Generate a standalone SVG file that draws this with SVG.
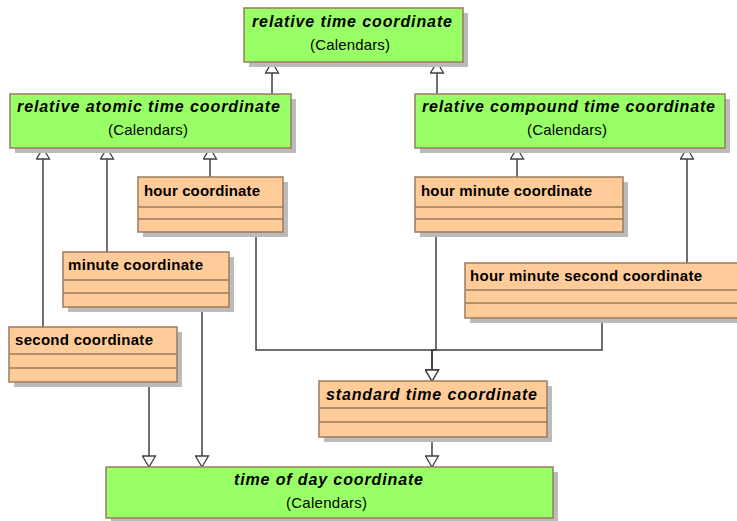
<svg xmlns="http://www.w3.org/2000/svg" width="737" height="521" viewBox="0 0 737 521">
<style>
.g{fill:#99FF66;stroke:#9A7B5E;stroke-width:1.5}
.o{fill:#FFCC99;stroke:#9A7B5E;stroke-width:1.5}
.sh{fill:#BBBBBB}
.sep{stroke:#9A7B5E;stroke-width:1.5}
.t{font-family:"Liberation Sans",Arial,sans-serif;font-size:16px;font-weight:bold;font-style:italic;fill:#000}
.c{font-family:"Liberation Sans",Arial,sans-serif;font-size:15px;fill:#000}
.n{font-family:"Liberation Sans",Arial,sans-serif;font-size:15px;font-weight:bold;fill:#000}
.ni{font-family:"Liberation Sans",Arial,sans-serif;font-size:16px;font-weight:bold;font-style:italic;fill:#000}
.e{fill:none;stroke:#404040;stroke-width:1.5;marker-end:url(#tri)}
</style>
<defs>
<marker id="tri" markerUnits="userSpaceOnUse" markerWidth="15" markerHeight="15" refX="11" refY="6.5" orient="auto" viewBox="-1 -1 15 15">
<path d="M0,0 L11,6.5 L0,13 Z" fill="#fff" stroke="#404040" stroke-width="1.3"/>
</marker>
</defs>
<rect width="737" height="521" fill="#fff"/>

<g id="connectors">
<path class="e" d="M272,94 V62"/>
<path class="e" d="M437,94 V62"/>
<path class="e" d="M43,327 V148"/>
<path class="e" d="M107,252 V148"/>
<path class="e" d="M210,177 V148"/>
<path class="e" d="M517,177 V148"/>
<path class="e" d="M687,263 V148"/>
<path class="e" d="M256,232 V350 H432 V381"/>
<path class="e" d="M436,232 V350 H432 V381"/>
<path class="e" d="M602,318 V350 H432 V381"/>
<path class="e" d="M149,382 V467"/>
<path class="e" d="M202,307 V467"/>
<path class="e" d="M432,437 V467"/>
</g>

<g id="relative-time-coordinate">
<rect class="sh" x="249" y="13" width="219" height="54"/>
<rect class="g" x="244" y="8" width="219" height="54"/>
<text class="t" x="252" y="27" textLength="200" lengthAdjust="spacing">relative time coordinate</text>
<text class="c" x="310" y="50" textLength="80" lengthAdjust="spacing">(Calendars)</text>
</g>

<g id="relative-atomic-time-coordinate">
<rect class="sh" x="15" y="99" width="281" height="54"/>
<rect class="g" x="10" y="94" width="281" height="54"/>
<text class="t" x="17" y="112" textLength="263" lengthAdjust="spacing">relative atomic time coordinate</text>
<text class="c" x="108" y="135" textLength="80" lengthAdjust="spacing">(Calendars)</text>
</g>

<g id="relative-compound-time-coordinate">
<rect class="sh" x="420" y="99" width="310" height="54"/>
<rect class="g" x="415" y="94" width="310" height="54"/>
<text class="t" x="422" y="112" textLength="293" lengthAdjust="spacing">relative compound time coordinate</text>
<text class="c" x="527" y="135" textLength="80" lengthAdjust="spacing">(Calendars)</text>
</g>

<g id="hour-coordinate">
<rect class="sh" x="143" y="182" width="145" height="55"/>
<rect class="o" x="138" y="177" width="145" height="55"/>
<line class="sep" x1="138" y1="207" x2="283" y2="207"/>
<line class="sep" x1="138" y1="219" x2="283" y2="219"/>
<text class="n" x="144" y="196" textLength="116" lengthAdjust="spacing">hour coordinate</text>
</g>

<g id="hour-minute-coordinate">
<rect class="sh" x="420" y="182" width="208" height="55"/>
<rect class="o" x="415" y="177" width="208" height="55"/>
<line class="sep" x1="415" y1="207" x2="623" y2="207"/>
<line class="sep" x1="415" y1="219" x2="623" y2="219"/>
<text class="n" x="421" y="196" textLength="171" lengthAdjust="spacing">hour minute coordinate</text>
</g>

<g id="minute-coordinate">
<rect class="sh" x="68" y="257" width="166" height="55"/>
<rect class="o" x="63" y="252" width="166" height="55"/>
<line class="sep" x1="63" y1="280" x2="229" y2="280"/>
<line class="sep" x1="63" y1="293" x2="229" y2="293"/>
<text class="n" x="68" y="270" textLength="135" lengthAdjust="spacing">minute coordinate</text>
</g>

<g id="hour-minute-second-coordinate">
<rect class="sh" x="470" y="268" width="280" height="55"/>
<rect class="o" x="465" y="263" width="280" height="55"/>
<line class="sep" x1="465" y1="290" x2="745" y2="290"/>
<line class="sep" x1="465" y1="303" x2="745" y2="303"/>
<text class="n" x="470" y="281" textLength="232" lengthAdjust="spacing">hour minute second coordinate</text>
</g>

<g id="second-coordinate">
<rect class="sh" x="14" y="332" width="168" height="55"/>
<rect class="o" x="9" y="327" width="168" height="55"/>
<line class="sep" x1="9" y1="354" x2="177" y2="354"/>
<line class="sep" x1="9" y1="368" x2="177" y2="368"/>
<text class="n" x="15" y="345" textLength="138" lengthAdjust="spacing">second coordinate</text>
</g>

<g id="standard-time-coordinate">
<rect class="sh" x="324" y="386" width="228" height="56"/>
<rect class="o" x="319" y="381" width="228" height="56"/>
<line class="sep" x1="319" y1="408" x2="547" y2="408"/>
<line class="sep" x1="319" y1="422" x2="547" y2="422"/>
<text class="ni" x="326" y="400" textLength="211" lengthAdjust="spacing">standard time coordinate</text>
</g>

<g id="time-of-day-coordinate">
<rect class="sh" x="111" y="472" width="447" height="51"/>
<rect class="g" x="106" y="467" width="447" height="51"/>
<text class="t" x="234" y="485" textLength="189" lengthAdjust="spacing">time of day coordinate</text>
<text class="c" x="286" y="508" textLength="81" lengthAdjust="spacing">(Calendars)</text>
</g>
</svg>
